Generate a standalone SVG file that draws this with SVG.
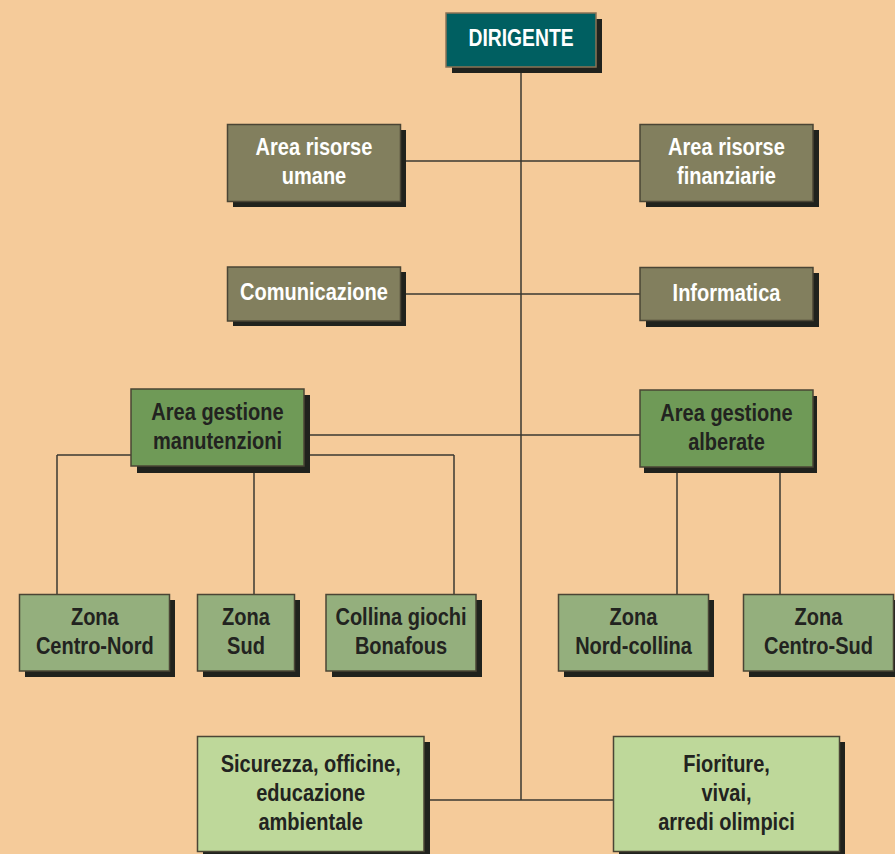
<svg xmlns="http://www.w3.org/2000/svg" width="895" height="854" viewBox="0 0 895 854">
<style>
.bg{fill:#F5CB9A}
.sh{fill:#20221D}
.box{stroke:#4A4535;stroke-width:1.5}
.dir{fill:#005F61}
.gray{fill:#827F5E}
.mid{fill:#6F9A57}
.zone{fill:#94AF7D}
.light{fill:#BED89A}
.conn line{stroke:#3A3830;stroke-width:1.5}
text{font-family:"Liberation Sans",Arial,sans-serif;font-weight:bold;font-size:23px;text-anchor:middle}
.w{fill:#FFFFFF}
.k{fill:#222320}
</style>
<rect class="bg" x="0" y="0" width="895" height="854"/>
<g id="connectors" class="conn">
<line x1="521" y1="67" x2="521" y2="800"/>
<line x1="400" y1="161" x2="640" y2="161"/>
<line x1="400" y1="294" x2="640" y2="294"/>
<line x1="304" y1="435" x2="640" y2="435"/>
<line x1="57" y1="455" x2="454" y2="455"/>
<line x1="57" y1="455" x2="57" y2="594"/>
<line x1="254" y1="466" x2="254" y2="594"/>
<line x1="454" y1="455" x2="454" y2="594"/>
<line x1="677" y1="466" x2="677" y2="594"/>
<line x1="780" y1="466" x2="780" y2="594"/>
<line x1="424" y1="800" x2="613" y2="800"/>
</g>
<g id="dirigente">
<rect class="sh" x="452" y="19" width="150" height="54"/>
<rect class="box dir" x="446" y="13" width="150" height="54" style="stroke:#8A7355"/>
<text class="w" transform="translate(521,46) scale(0.84,1)" font-size="24">DIRIGENTE</text>
</g>
<g id="risorse-umane">
<rect class="sh" x="233" y="130" width="173" height="77"/>
<rect class="box gray" x="227.5" y="124.5" width="173" height="77"/>
<text class="w" transform="translate(314,154.5) scale(0.87,1)">Area risorse</text>
<text class="w" transform="translate(314,183.5) scale(0.87,1)">umane</text>
</g>
<g id="risorse-finanziarie">
<rect class="sh" x="646" y="130" width="173" height="77"/>
<rect class="box gray" x="640" y="124.5" width="173" height="77"/>
<text class="w" transform="translate(726.5,154.5) scale(0.87,1)">Area risorse</text>
<text class="w" transform="translate(726.5,184) scale(0.87,1)">finanziarie</text>
</g>
<g id="comunicazione">
<rect class="sh" x="233" y="272" width="173" height="54"/>
<rect class="box gray" x="227.5" y="267" width="173" height="54"/>
<text class="w" transform="translate(314,300) scale(0.87,1)">Comunicazione</text>
</g>
<g id="informatica">
<rect class="sh" x="646" y="273" width="173" height="54"/>
<rect class="box gray" x="640" y="267.5" width="173" height="53"/>
<text class="w" transform="translate(726.5,300.5) scale(0.87,1)">Informatica</text>
</g>
<g id="gestione-manutenzioni">
<rect class="sh" x="137" y="395" width="173" height="78"/>
<rect class="box mid" x="131" y="389" width="173" height="77"/>
<text class="k" transform="translate(217.5,419.5) scale(0.87,1)">Area gestione</text>
<text class="k" transform="translate(217.5,448.5) scale(0.87,1)">manutenzioni</text>
</g>
<g id="gestione-alberate">
<rect class="sh" x="644" y="396" width="173" height="77"/>
<rect class="box mid" x="640" y="390" width="173" height="77"/>
<text class="k" transform="translate(726.5,420.5) scale(0.87,1)">Area gestione</text>
<text class="k" transform="translate(726.5,449.5) scale(0.87,1)">alberate</text>
</g>
<g id="zona-centro-nord">
<rect class="sh" x="25" y="600" width="150" height="77"/>
<rect class="box zone" x="19.5" y="594.5" width="150" height="76.5"/>
<text class="k" transform="translate(94.8,624.5) scale(0.87,1)">Zona</text>
<text class="k" transform="translate(94.8,653.5) scale(0.87,1)">Centro-Nord</text>
</g>
<g id="zona-sud">
<rect class="sh" x="203" y="600" width="97" height="77"/>
<rect class="box zone" x="197.5" y="594.5" width="97" height="76.5"/>
<text class="k" transform="translate(246,624.5) scale(0.87,1)">Zona</text>
<text class="k" transform="translate(246,653.5) scale(0.87,1)">Sud</text>
</g>
<g id="collina-giochi">
<rect class="sh" x="332" y="600" width="150" height="77"/>
<rect class="box zone" x="326" y="594.5" width="150" height="76.5"/>
<text class="k" transform="translate(401,624.5) scale(0.87,1)">Collina giochi</text>
<text class="k" transform="translate(401,653.5) scale(0.87,1)">Bonafous</text>
</g>
<g id="zona-nord-collina">
<rect class="sh" x="564" y="600" width="150" height="77"/>
<rect class="box zone" x="558.5" y="594.5" width="150" height="76.5"/>
<text class="k" transform="translate(633.5,624.5) scale(0.87,1)">Zona</text>
<text class="k" transform="translate(633.5,653.5) scale(0.87,1)">Nord-collina</text>
</g>
<g id="zona-centro-sud">
<rect class="sh" x="749" y="600" width="150" height="77"/>
<rect class="box zone" x="743.5" y="594.5" width="150" height="76.5"/>
<text class="k" transform="translate(818.5,624.5) scale(0.87,1)">Zona</text>
<text class="k" transform="translate(818.5,653.5) scale(0.87,1)">Centro-Sud</text>
</g>
<g id="sicurezza">
<rect class="sh" x="203" y="742" width="227" height="120"/>
<rect class="box light" x="197.5" y="736.5" width="226.5" height="115"/>
<text class="k" transform="translate(310.7,772) scale(0.87,1)">Sicurezza, officine,</text>
<text class="k" transform="translate(310.7,801) scale(0.87,1)">educazione</text>
<text class="k" transform="translate(310.7,829.5) scale(0.87,1)">ambientale</text>
</g>
<g id="fioriture">
<rect class="sh" x="619" y="742" width="226" height="120"/>
<rect class="box light" x="613.5" y="736.5" width="226" height="115"/>
<text class="k" transform="translate(726.5,772) scale(0.87,1)">Fioriture,</text>
<text class="k" transform="translate(726.5,800.5) scale(0.87,1)">vivai,</text>
<text class="k" transform="translate(726.5,829.5) scale(0.87,1)">arredi olimpici</text>
</g>
</svg>
